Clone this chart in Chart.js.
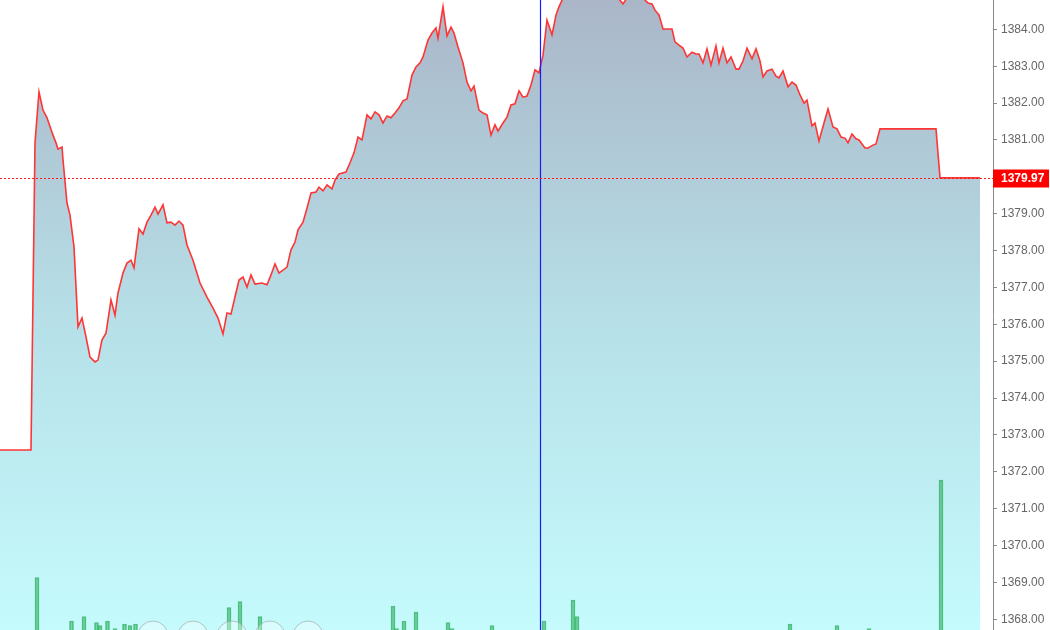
<!DOCTYPE html>
<html>
<head>
<meta charset="utf-8">
<script src="https://cdn.jsdelivr.net/npm/chart.js@4/dist/chart.umd.min.js"></script>
<style>
  html, body { margin: 0; padding: 0; background: #fff; overflow: hidden; }
  #wrap { width: 1050px; height: 630px; position: relative; }
</style>
</head>
<body>
<div id="wrap"><canvas id="c" width="1050" height="630"></canvas></div>
<script>
// ---- data ----
// time position along the (unlabelled) horizontal axis
const timePos = [
  0, 8, 16, 24, 31, 35, 39, 43, 47, 53, 56, 58, 62, 63, 67, 70, 74, 78, 82, 86,
  90, 95, 98, 102, 106, 111, 115, 118, 123, 127, 131, 134, 139, 143, 147, 151, 155, 158, 163, 167,
  171, 175, 179, 183, 187, 193, 200, 207, 213, 218, 223, 227, 231, 235, 239, 243, 247, 251, 255, 262,
  267, 271, 275, 279, 287, 291, 295, 298, 303, 307, 311, 316, 319, 323, 327, 332, 335, 339, 346, 350,
  354, 358, 362, 367, 371, 375, 379, 383, 387, 391, 395, 399, 403, 407, 412, 416, 420, 423, 428, 432,
  436, 438, 443, 447, 451, 454, 458, 463, 467, 471, 474, 479, 483, 487, 491, 495, 498, 503, 507, 511,
  515, 519, 523, 527, 531, 535, 539, 543, 547, 552, 556, 559, 563, 567, 571, 575, 579, 583, 587, 591,
  595, 599, 603, 607, 611, 615, 619, 623, 627, 631, 635, 639, 643, 648, 652, 655, 659, 663, 668, 672,
  675, 679, 683, 687, 692, 696, 699, 703, 707, 711, 716, 719, 723, 727, 731, 736, 739, 743, 747, 752,
  756, 760, 763, 767, 772, 776, 779, 783, 788, 792, 796, 800, 804, 807, 812, 815, 819, 824, 828, 833,
  837, 841, 845, 848, 852, 856, 859, 865, 868, 873, 876, 880, 888, 896, 904, 912, 920, 928, 936, 940,
  948, 956, 964, 972, 980
];
const prices = [
  1372.59, 1372.59, 1372.59, 1372.59, 1372.59, 1380.92, 1382.30, 1381.81, 1381.60, 1381.13, 1380.92, 1380.75, 1380.81, 1380.46, 1379.29, 1378.96, 1378.10, 1375.93, 1376.17, 1375.66,
  1375.11, 1374.98, 1375.03, 1375.58, 1375.76, 1376.66, 1376.25, 1376.85, 1377.39, 1377.66, 1377.74, 1377.53, 1378.59, 1378.45, 1378.77, 1378.96, 1379.18, 1378.99, 1379.24, 1378.75,
  1378.77, 1378.69, 1378.80, 1378.69, 1378.15, 1377.74, 1377.12, 1376.74, 1376.44, 1376.17, 1375.74, 1376.31, 1376.28, 1376.74, 1377.20, 1377.28, 1377.01, 1377.34, 1377.09, 1377.12,
  1377.07, 1377.34, 1377.64, 1377.39, 1377.55, 1378.02, 1378.23, 1378.56, 1378.77, 1379.15, 1379.56, 1379.59, 1379.72, 1379.62, 1379.78, 1379.67, 1379.91, 1380.08, 1380.13, 1380.38,
  1380.65, 1381.08, 1381.00, 1381.68, 1381.57, 1381.76, 1381.68, 1381.46, 1381.65, 1381.60, 1381.73, 1381.87, 1382.06, 1382.11, 1382.76, 1382.98, 1383.09, 1383.25, 1383.71, 1383.90,
  1384.04, 1383.76, 1384.61, 1383.82, 1384.06, 1383.90, 1383.52, 1383.09, 1382.57, 1382.33, 1382.46, 1381.81, 1381.73, 1381.68, 1381.13, 1381.41, 1381.24, 1381.46, 1381.62, 1381.95,
  1381.98, 1382.33, 1382.16, 1382.19, 1382.49, 1382.90, 1382.82, 1383.30, 1384.25, 1383.85, 1384.39, 1384.61, 1384.85, 1385.00, 1385.15, 1385.10, 1385.30, 1385.25, 1385.40, 1385.30,
  1385.35, 1385.20, 1385.30, 1385.15, 1385.10, 1385.00, 1384.82, 1384.69, 1384.85, 1385.00, 1384.95, 1384.90, 1384.85, 1384.71, 1384.69, 1384.52, 1384.39, 1384.01, 1384.01, 1384.01,
  1383.66, 1383.57, 1383.49, 1383.25, 1383.38, 1383.33, 1383.33, 1383.09, 1383.47, 1383.03, 1383.55, 1383.09, 1383.49, 1383.09, 1383.25, 1382.92, 1382.92, 1383.14, 1383.49, 1383.20,
  1383.47, 1383.14, 1382.71, 1382.87, 1382.92, 1382.73, 1382.68, 1382.87, 1382.44, 1382.57, 1382.49, 1382.22, 1382.00, 1382.08, 1381.38, 1381.46, 1380.97, 1381.46, 1381.84, 1381.35,
  1381.30, 1381.08, 1381.05, 1380.92, 1381.16, 1381.03, 1381.00, 1380.78, 1380.78, 1380.86, 1380.89, 1381.30, 1381.30, 1381.30, 1381.30, 1381.30, 1381.30, 1381.30, 1381.30, 1379.97,
  1379.97, 1379.97, 1379.97, 1379.97, 1379.97
];
// volume bars
const volTimePos = [37, 71.5, 84, 96.5, 100, 107.5, 115, 124.5, 130, 135.5, 229, 240, 260, 393, 396.5, 404, 416, 448, 452, 492, 544, 573, 577, 790, 837, 869, 941];
const volumes    = [35, 6, 9, 5, 3, 6, 1, 4, 3, 4, 15, 19, 9, 16, 1, 6, 12, 5, 1, 3, 6, 20, 9, 4, 3, 1, 100];
// reference price line, crosshair
const lastPrice = 1379.97;
const crossTime = 540;
// axis
const yMin = 1367.71, yMax = 1384.795, yStep = 1;
const xMin = 0, xMax = 993;
const volMax = 420;

const priceData = timePos.map((t, i) => ({ x: t, y: prices[i] }));
const volData = volTimePos.map((t, i) => ({ x: t, y: volumes[i] }));

const overlay = {
  id: 'overlay',
  afterDatasetsDraw(chart) {
    const ctx = chart.ctx, area = chart.chartArea;
    const ys = chart.scales.y, xs = chart.scales.x;
    ctx.save();
    // crosshair vertical line
    const cx = Math.round(xs.getPixelForValue(crossTime)) + 0.5;
    ctx.strokeStyle = '#1a1aff';
    ctx.lineWidth = 1.2;
    ctx.beginPath(); ctx.moveTo(cx, area.top); ctx.lineTo(cx, area.bottom); ctx.stroke();
    // last price dashed line
    const py = Math.round(ys.getPixelForValue(lastPrice)) + 0.5;
    ctx.strokeStyle = '#ff1a1a';
    ctx.setLineDash([2, 2]);
    ctx.lineWidth = 1;
    ctx.beginPath(); ctx.moveTo(area.left, py); ctx.lineTo(area.right, py); ctx.stroke();
    ctx.setLineDash([]);
    // bottom round buttons
    const bx = [153, 193, 232, 270, 308];
    bx.forEach(x => {
      ctx.beginPath();
      ctx.arc(x, 636, 15, 0, Math.PI * 2);
      ctx.fillStyle = 'rgba(255,255,255,0.35)';
      ctx.fill();
      ctx.strokeStyle = 'rgba(150,150,150,0.55)';
      ctx.lineWidth = 1;
      ctx.stroke();
    });
    ctx.restore();
  },
  afterDraw(chart) {
    const ctx = chart.ctx, area = chart.chartArea;
    const ys = chart.scales.y;
    const py = ys.getPixelForValue(lastPrice);
    ctx.save();
    ctx.fillStyle = '#ff0000';
    ctx.fillRect(area.right, Math.round(py) - 8.5, 56, 18);
    ctx.fillStyle = '#ffffff';
    ctx.font = 'bold 12px "Liberation Sans", Arial, sans-serif';
    ctx.textBaseline = 'middle';
    ctx.textAlign = 'left';
    ctx.fillText(lastPrice.toFixed(2), area.right + 8, Math.round(py) + 0.5);
    ctx.restore();
  }
};

new Chart(document.getElementById('c'), {
  type: 'line',
  data: {
    datasets: [
      {
        type: 'bar',
        data: volData,
        yAxisID: 'vol',
        backgroundColor: 'rgba(50,185,100,0.55)',
        borderColor: 'rgba(40,165,85,0.7)',
        borderWidth: 1,
        barThickness: 4,
        order: 0
      },
      {
        type: 'line',
        data: priceData,
        yAxisID: 'y',
        borderColor: '#ff3535',
        borderWidth: 1.6,
        pointRadius: 0,
        tension: 0,
        fill: 'start',
        order: 1,
        backgroundColor: (c) => {
          const a = c.chart.chartArea;
          if (!a) return '#b8e0e8';
          const g = c.chart.ctx.createLinearGradient(0, a.top, 0, a.bottom);
          g.addColorStop(0, '#aab6c8');
          g.addColorStop(0.5, '#b6dfe7');
          g.addColorStop(1, '#c5fbfd');
          return g;
        }
      }
    ]
  },
  options: {
    responsive: false,
    animation: false,
    layout: { padding: 0 },
    plugins: { legend: { display: false }, tooltip: { enabled: false } },
    scales: {
      x: {
        type: 'linear', min: xMin, max: xMax, display: false, offset: false
      },
      vol: {
        type: 'linear', min: 0, max: volMax, display: false
      },
      y: {
        type: 'linear',
        position: 'right',
        min: yMin, max: yMax,
        afterFit(s) { s.width = 57; s.paddingTop = 0; s.paddingBottom = 0; },
        border: { display: true, color: '#8a8a8a', width: 1 },
        grid: { drawOnChartArea: false, drawTicks: true, tickLength: 4, color: '#8a8a8a' },
        ticks: {
          stepSize: yStep,
          includeBounds: false,
          padding: 4,
          color: '#666666',
          font: { family: '"Liberation Sans", Arial, sans-serif', size: 12 },
          callback: (v) => (Math.abs(v - 1380) < 1e-6 ? '' : Number(v).toFixed(2))
        }
      }
    }
  },
  plugins: [overlay]
});
</script>
</body>
</html>
